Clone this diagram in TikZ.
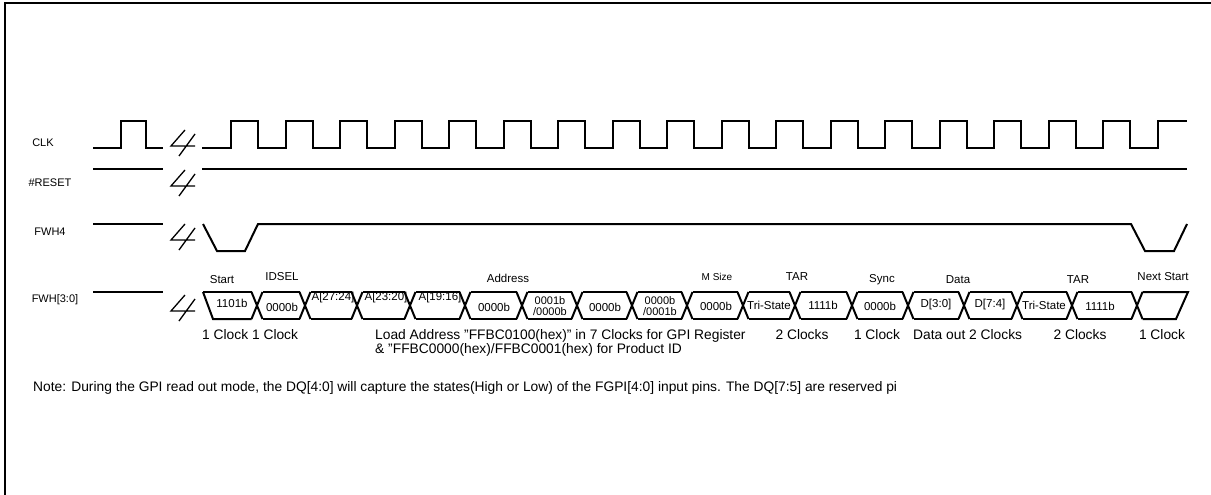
\documentclass[tikz,border=0pt]{standalone}
\usepackage{fontspec}
\setmainfont{Liberation Sans}
\begin{document}
\begin{tikzpicture}[x=1pt,y=-1pt,
  sig/.style={line width=2pt, line join=miter},
  frame/.style={line width=2pt},
  sname/.style={font=\fontsize{11}{12}\selectfont, inner sep=0pt},
  phase/.style={font=\fontsize{11.5}{12}\selectfont, inner sep=0pt},
  small/.style={font=\fontsize{10}{11}\selectfont, inner sep=0pt},
  bustxt/.style={font=\fontsize{11.5}{12}\selectfont, inner sep=0pt},
  bustwo/.style={font=\fontsize{11}{10.5}\selectfont, inner sep=0pt, align=center},
  clk/.style={font=\fontsize{13.8}{14}\selectfont, inner sep=0pt, anchor=west},
  note/.style={font=\fontsize{13.8}{14}\selectfont, inner sep=0pt, anchor=west},
  brk/.pic={\draw[line width=1.3pt] (1,-13) -- (-13,3) -- (11,3) (-5,13) -- (11,-9);}
]
\useasboundingbox (0,0) rectangle (1211,495);
\draw[frame] (5,495) -- (5,3) -- (1211,3);

% signal names
\node[sname] (nclk) at (43,143) {CLK};
\node[sname] (nrst) at (50,183) {\#RESET};
\node[sname] (nfwh4) at (50,232) {FWH4};
\node[sname] (nfwh) at (55,300) {FWH[3:0]};

% break marks
\pic at (184,143) {brk};
\pic at (184,183) {brk};
\pic at (184,237) {brk};
\pic at (184,308) {brk};

% CLK
\draw[sig] (93,148) -- (121,148) -- (121,121) -- (146,121) -- (146,148) -- (163,148);
\draw[sig] (202,148) foreach \k in {0,...,16} {
   -- ({231+54.53*\k},148) -- ({231+54.53*\k},121) -- ({258+54.53*\k},121) -- ({258+54.53*\k},148) }
   -- (1158,148) -- (1158,121) -- (1187,121);

% RESET
\draw[sig] (93,169) -- (163,169);
\draw[sig] (202,169) -- (1187,169);

% FWH4
\draw[sig] (93,224) -- (163,224);
\draw[sig] (203,224) -- (217,251) -- (245,251) -- (258,224) -- (1131,224) -- (1145,251) -- (1174,251) -- (1187,224);

% FWH[3:0]
\draw[sig] (93,292) -- (163,292);
\def\h{5.5}
\draw[sig] (203,292) -- (213,319) -- ({257-\h},319);
\draw[sig] (203,292) -- ({257-\h},292);
\foreach \a/\b in {257/305,305/357,357/410,410/465,465/522,522/577,577/632,632/687,687/743,743/795,795/852,852/908,908/964,964/1017,1017/1072,1072/1137}{
  \draw[sig] ({\a+\h},292) -- ({\b-\h},292) ({\a+\h},319) -- ({\b-\h},319);
}
\foreach \c in {257,305,357,410,465,522,577,632,687,743,795,852,908,964,1017,1072,1137}{
  \draw[sig] ({\c-\h},292) -- ({\c+\h},319) ({\c-\h},319) -- ({\c+\h},292);
}
\draw[sig] ({1137+\h},292) -- (1188,292) -- (1176,319) -- ({1137+\h},319);

% bus texts
\node[bustxt] (d1) at (232,303) {1101b};
\node[bustxt] (d2) at (282,307) {0000b};
\node[bustxt] (d3) at (333,298) {A[27:24]};
\node[bustxt] (d4) at (386,298) {A[23:20]};
\node[bustxt] (d5) at (440,298) {A[19:16]};
\node[bustxt] (d6) at (494,307) {0000b};
\node[bustwo] (d7) at (550,306) {0001b\\/0000b};
\node[bustxt] (d8) at (605,307) {0000b};
\node[bustwo] (d9) at (660,306) {0000b\\/0001b};
\node[bustxt] (d10) at (716,306) {0000b};
\node[bustxt] (d11) at (769,305) {Tri-State};
\node[bustxt] (d12) at (823,305) {1111b};
\node[bustxt] (d13) at (880,306) {0000b};
\node[bustxt] (d14) at (936,305) {D[3:0]};
\node[bustxt] (d15) at (990,305) {D[7:4]};
\node[bustxt] (d16) at (1044,305) {Tri-State};
\node[bustxt] (d17) at (1100,306) {1111b};

% phase labels
\node[phase] (pstart) at (222,280) {Start};
\node[phase] (pidsel) at (282,277) {IDSEL};
\node[phase] (paddr) at (508,278) {Address};
\node[small] (pmsize) at (717,277) {M Size};
\node[phase] (ptar1) at (797,277) {TAR};
\node[phase] (psync) at (882,280) {Sync};
\node[phase] (pdata) at (958,280) {Data};
\node[phase] (ptar2) at (1078,280) {TAR};
\node[phase] (pnext) at (1163,277) {Next Start};

% clock counts
\node[clk] (k1) at (202,335) {1 Clock 1 Clock};
\node[clk, align=left, anchor=north west] (k2) at (375,329) {Load Address "FFBC0100(hex)" in 7 Clocks for GPI Register\\\& "FFBC0000(hex)/FFBC0001(hex) for Product ID};
\node[clk, anchor=center] (k3) at (802,335) {2 Clocks};
\node[clk, anchor=center] (k4) at (877,335) {1 Clock};
\node[clk] (k5) at (913,335) {Data out 2 Clocks};
\node[clk, anchor=center] (k6) at (1080,335) {2 Clocks};
\node[clk, anchor=center] (k7) at (1162,335) {1 Clock};

\node[note] (nt) at (33,388) {Note: During the GPI read out mode, the DQ[4:0] will capture the states(High or Low) of the FGPI[4:0] input pins. The DQ[7:5] are reserved pi};
\end{tikzpicture}
\end{document}
